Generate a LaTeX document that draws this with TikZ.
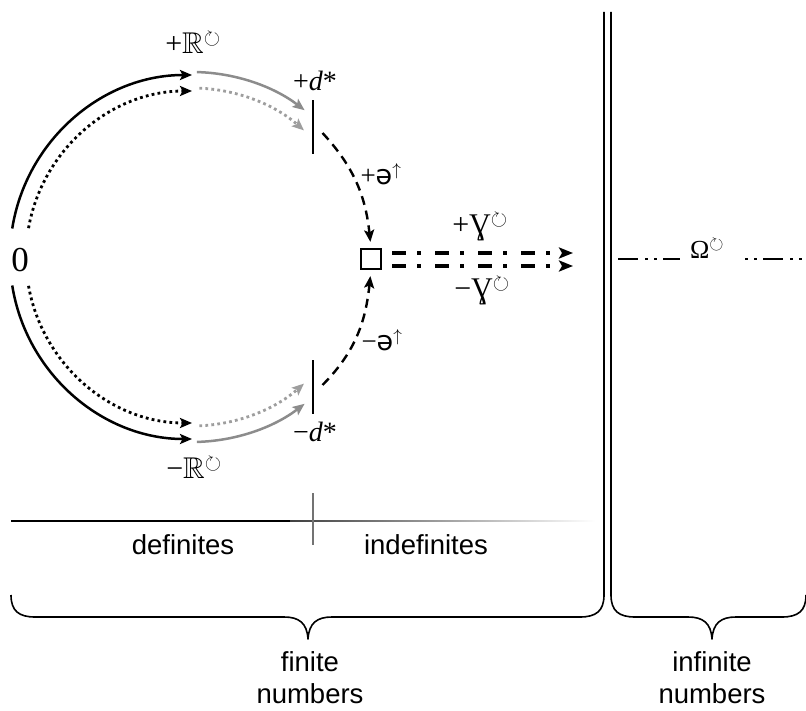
\documentclass[tikz,border=0pt]{standalone}
\usepackage{amssymb}
\usepackage{fontspec}
\setmainfont{Liberation Serif}
\setsansfont{Liberation Sans}
\newfontfamily\symf{DejaVu Sans}
\usetikzlibrary{arrows.meta, calc, positioning}
\definecolor{arcgray}{gray}{0.55}
\newcommand{\rot}{\ensuremath{^{\circlearrowright}}}
\newcommand{\upar}{\ensuremath{^{\uparrow}}}

\begin{document}
\begin{tikzpicture}[x=1pt, y=1pt,
  arrowed/.style={-{Stealth[length=12pt,width=10pt,inset=2.5pt]}},
  blk/.style={arrowed, line width=2.5pt},
  blkdot/.style={arrowed, line width=2.8pt, dash pattern=on 2.8pt off 3.2pt},
  gry/.style={blk, arcgray},
  grydot/.style={blkdot, arcgray!85},
  dsh/.style={arrowed, line width=2.4pt, dash pattern=on 9pt off 6pt, shorten >=6pt},
  gline/.style={-{Stealth[length=14pt,width=11pt,inset=3pt]}, line width=3.5pt, dash pattern=on 14pt off 11pt on 4pt off 14pt},
  oline/.style={line width=1.6pt, dash pattern=on 20pt off 7pt on 3pt off 6pt on 3pt off 6pt},
  lbl/.style={inner sep=0pt, font=\fontsize{30}{33}\selectfont},
  sml/.style={inner sep=0pt, font=\fontsize{27}{30}\selectfont},
  txt/.style={inner sep=0pt, align=center, font=\sffamily\fontsize{27.5}{32}\selectfont},
  tickbar/.style={fill=black, inner sep=0pt, minimum width=2.6pt, minimum height=54pt},
  brc/.style={line width=1.6pt, line join=round},
]
\useasboundingbox (0,0) rectangle (806,-711);
\coordinate (c) at (192,-257);

\node[lbl, font=\fontsize{35}{36}\selectfont] (zero) at (20,-260) {0};
\node[lbl] (rplus) at (193,-43) {+$\mathbb{R}$\rot};
\node[lbl] (rminus) at (194,-468) {−$\mathbb{R}$\rot};
\node[sml, font=\fontsize{28}{30}\selectfont] (dplus) at (315,-81) {+\textit{d}*};
\node[sml, font=\fontsize{28}{30}\selectfont] (dminus) at (315,-432) {−\textit{d}*};
\node[tickbar] (barup) at (313,-127) {};
\node[tickbar] (bardn) at (313,-387) {};
\node[draw, line width=2.2pt, minimum size=20pt, inner sep=0pt] (sq) at (371,-259) {};
\node[sml] (eplus) at (381,-174) {+{\symf ə}\upar};
\node[sml] (eminus) at (382,-340) {−{\symf ə}\upar};
\node[lbl] (gplus) at (480,-227) {+Ɣ\rot};
\node[lbl] (gminus) at (482,-291) {−Ɣ\rot};

\draw[blk] ($(c)+(171:182)$) arc[start angle=171, end angle=90, radius=182pt];
\draw[blkdot] ($(c)+(170:166)$) arc[start angle=170, end angle=90, radius=166pt];
\draw[gry] ($(c)+(88.5:185)$) arc[start angle=88.5, end angle=52.5, radius=185pt];
\draw[grydot] ($(c)+(87.5:169)$) arc[start angle=87.5, end angle=48.5, radius=169pt];
\draw[blk] ($(c)+(-171:182)$) arc[start angle=-171, end angle=-90, radius=182pt];
\draw[blkdot] ($(c)+(-170:166)$) arc[start angle=-170, end angle=-90, radius=166pt];
\draw[gry] ($(c)+(-88.5:185)$) arc[start angle=-88.5, end angle=-52.5, radius=185pt];
\draw[grydot] ($(c)+(-87.5:169)$) arc[start angle=-87.5, end angle=-48.5, radius=169pt];

\draw[dsh] ($(barup.east)+(8,-6)$) to[out=-47, in=96] (sq.north);
\draw[dsh] ($(bardn.east)+(8,2)$) to[out=45, in=-96] (sq.south);

\coordinate (gu) at (573,-253);
\coordinate (gd) at (573,-266);
\draw[gline] ($(sq.east)+(10,6)$) -- (gu);
\draw[gline] ($(sq.east)+(10,-7)$) -- (gd);

\node[lbl, font=\fontsize{26}{30}\selectfont, inner xsep=10pt] (omg) at (707,-249) {Ω\rot};
\coordinate (om) at (618,-259);
\coordinate (oe) at (806,-259);
\draw[oline] (om) -- (om -| omg.west);
\draw[oline, dash phase=20pt, shorten <=4pt] (omg.east |- oe) -- (oe);

\draw[brc] (11,-595) .. controls (11,-611) and (19,-617) .. (35,-617) -- (284,-617)
  .. controls (299,-617) and (307,-623) .. (308,-639)
  .. controls (309,-623) and (317,-617) .. (332,-617) -- (580,-617)
  .. controls (596,-617) and (604,-611) .. (604,-595) -- (604,-12);
\draw[brc] (611,-12) -- (611,-595) .. controls (611,-611) and (619,-617) .. (635,-617) -- (688,-617)
  .. controls (703,-617) and (711,-623) .. (712,-639)
  .. controls (713,-623) and (721,-617) .. (736,-617) -- (782,-617)
  .. controls (798,-617) and (806,-611) .. (806,-595);

\draw[line width=2.2pt] (11,-521) -- (290,-521);
\shade[left color=black!75, right color=white] (290,-520.3) rectangle (595,-521.7);
\draw[line width=2pt, black!55] (313,-493) -- (313,-545);

\node[txt] (defs) at (183,-545) {definites};
\node[txt] (indefs) at (426,-545) {indefinites};
\node[txt] (fin) at (310,-678) {finite\\numbers};
\node[txt] (infin) at (712,-678) {infinite\\numbers};
\end{tikzpicture}
\end{document}
